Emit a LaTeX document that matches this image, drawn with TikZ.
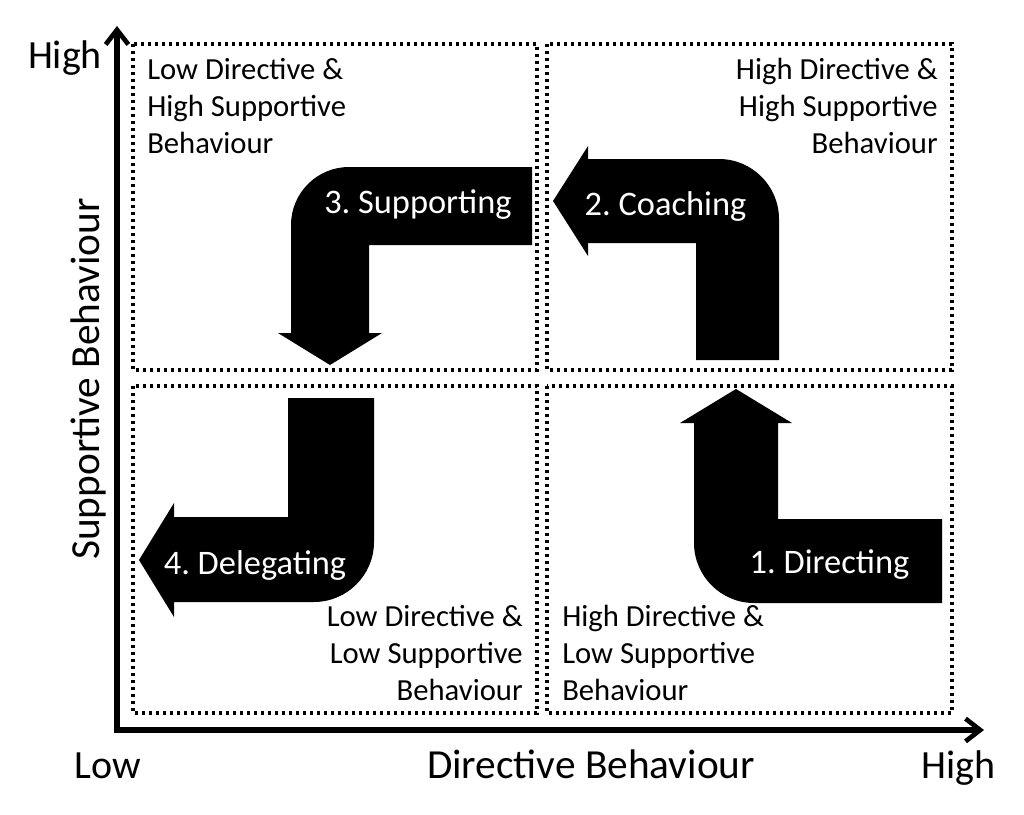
\documentclass[tikz,border=0pt]{standalone}
\usepackage{fontspec}
\setmainfont{Carlito}
\frenchspacing
\usetikzlibrary{arrows.meta}
\tikzset{
  quad/.style={draw=black,line width=2.5pt,dash pattern=on 2.5pt off 2.75pt},
  bent/.style={fill=black},
  qlabel/.style={inner sep=0pt,font=\fontsize{23}{27.75}\selectfont},
  alabel/.style={inner sep=0pt,text=white,font=\fontsize{25.8}{30}\selectfont,anchor=base},
  axlabel/.style={inner sep=0pt,anchor=base},
  axis/.style={line width=3.8pt,{Straight Barb[length=11pt,width=17pt,line width=3.5pt]}-{Straight Barb[length=11pt,width=17pt,line width=3.5pt]}}
}
\begin{document}
\begin{tikzpicture}[x=0.75pt,y=-0.75pt]
\useasboundingbox (0,0) rectangle (1024,814);
\fill[white] (0,0) rectangle (1024,814);
% quadrant boxes
\draw[quad] (133,44) rectangle (537,370);
\draw[quad] (547,44) rectangle (952,370);
\draw[quad] (133,386) rectangle (537,713);
\draw[quad] (547,386) rectangle (952,713);
% axes
\coordinate (ytop) at (117,26);
\coordinate (orig) at (117,730);
\coordinate (xend) at (984,730);
\draw[axis] (ytop) -- (orig) -- (xend);
% bent arrows
% 1 Directing
\fill[bent] (736,389) -- (792,423) -- (778,423) -- (778,519) -- (942,519) -- (942,603) -- (754,603) .. controls (721,603) and (694,576) .. (694,543) -- (694,423) -- (680,423) -- cycle;
% 2 Coaching
\fill[bent] (553,201) -- (588,146) -- (588,159) -- (719,159) .. controls (752,159) and (779,186) .. (779,219) -- (779,360) -- (696,360) -- (696,243) -- (588,243) -- (588,256) -- cycle;
% 3 Supporting
\fill[bent] (532,167) -- (349,167) .. controls (317,167) and (291,193) .. (291,225) -- (291,333) -- (278,333) -- (330,365) -- (382,333) -- (369,333) -- (369,245) -- (532,245) -- cycle;
% 4 Delegating
\fill[bent] (288,398) -- (374,398) -- (374,542) .. controls (374,575) and (347,602) .. (314,602) -- (174,602) -- (174,617) -- (139,560) -- (174,503) -- (174,517) -- (288,517) -- cycle;
% arrow labels
\node[alabel] (l3) at (418,213) {3. Supporting};
\node[alabel] (l2) at (665.5,215) {2. Coaching};
\node[alabel] (l1) at (829.5,573) {1. Directing};
\node[alabel] (l4) at (255,574) {4. Delegating};
% quadrant labels (base = last line)
\node[qlabel,anchor=base west,align=left] (tl) at (147,153) {Low Directive \&\\High Supportive\\Behaviour};
\node[qlabel,anchor=base east,align=right] (tr) at (938,153) {High Directive \&\\High Supportive\\Behaviour};
\node[qlabel,anchor=base east,align=right] (bl) at (523,700) {Low Directive \&\\Low Supportive\\Behaviour};
\node[qlabel,anchor=base west,align=left] (br) at (562,700) {High Directive \&\\Low Supportive\\Behaviour};
% axis labels
\node[axlabel,font=\fontsize{30}{36}\selectfont] (yhigh) at (65,68) {High};
\node[axlabel,font=\fontsize{30}{36}\selectfont] (xlow) at (107.5,778) {Low};
\node[axlabel,font=\fontsize{31}{36}\selectfont] (xlab) at (591,778) {Directive Behaviour};
\node[axlabel,font=\fontsize{30}{36}\selectfont] (xhigh) at (958.5,778) {High};
\node[axlabel,font=\fontsize{31}{36}\selectfont,rotate=90] (ylab) at (99,379) {Supportive Behaviour};
\end{tikzpicture}
\end{document}
